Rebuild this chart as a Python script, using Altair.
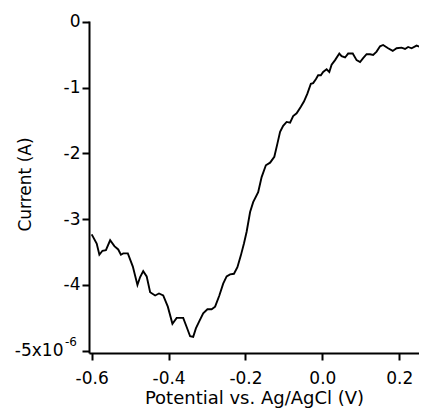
import altair as alt
import pandas as pd

# Potential (V vs. Ag/AgCl)
potential = [
    -0.600, -0.587, -0.580, -0.572, -0.563, -0.552, -0.541, -0.531, -0.524, -0.518,
    -0.506, -0.493, -0.481, -0.474, -0.466, -0.457, -0.448, -0.435, -0.425, -0.414,
    -0.402, -0.390, -0.379, -0.362, -0.353, -0.344, -0.336, -0.329, -0.320, -0.310,
    -0.299, -0.288, -0.279, -0.268, -0.258, -0.249, -0.240, -0.230, -0.221, -0.212,
    -0.204, -0.197, -0.188, -0.180, -0.167, -0.158, -0.147, -0.136, -0.125, -0.117,
    -0.110, -0.102, -0.093, -0.084, -0.076, -0.067, -0.056, -0.048, -0.039, -0.030,
    -0.024, -0.017, -0.011, -0.004, 0.002, 0.011, 0.018, 0.024, 0.033, 0.044,
    0.050, 0.059, 0.067, 0.079, 0.089, 0.098, 0.106, 0.115, 0.124, 0.132,
    0.141, 0.150, 0.158, 0.171, 0.183, 0.193, 0.206, 0.215, 0.223, 0.232,
    0.245, 0.254, 0.267,
]

# Current, in units of 1e-6 A
current = [
    -3.23, -3.37, -3.54, -3.48, -3.47, -3.32, -3.41, -3.46, -3.54, -3.52,
    -3.52, -3.72, -4.00, -3.88, -3.79, -3.87, -4.11, -4.16, -4.13, -4.16,
    -4.33, -4.59, -4.50, -4.50, -4.64, -4.78, -4.79, -4.66, -4.55, -4.43,
    -4.37, -4.37, -4.33, -4.16, -3.98, -3.87, -3.84, -3.83, -3.73, -3.55,
    -3.37, -3.19, -2.89, -2.74, -2.59, -2.36, -2.18, -2.14, -2.05, -1.85,
    -1.67, -1.58, -1.52, -1.53, -1.43, -1.39, -1.29, -1.21, -1.09, -0.94,
    -0.93, -0.87, -0.81, -0.81, -0.76, -0.72, -0.76, -0.65, -0.58, -0.48,
    -0.52, -0.54, -0.48, -0.48, -0.58, -0.61, -0.55, -0.49, -0.49, -0.50,
    -0.45, -0.37, -0.35, -0.40, -0.44, -0.40, -0.39, -0.41, -0.38, -0.40,
    -0.36, -0.38, -0.36,
]

x_ticks = [-0.6, -0.4, -0.2, 0.0, 0.2]
y_ticks = [0, -1, -2, -3, -4, -5]

# exponent shown beside the lowest y tick label
exponent_label = ["-6"]
exponent_at = [-5]

df = pd.DataFrame({"potential": potential, "current": current})
exp_df = pd.DataFrame({"text": exponent_label, "current": exponent_at})

FONT = "DejaVu Sans"

x_axis = alt.Axis(
    values=x_ticks,
    title="Potential vs. Ag/AgCl (V)",
    labelExpr="replace(format(datum.value, '.1f'), '\u2212', '-')",
    grid=False,
    domainColor="black", domainWidth=2,
    tickColor="black", tickWidth=2, tickSize=7,
    labelFont=FONT, labelFontSize=17, labelColor="black", labelPadding=10,
    labelFlush=False,
    titleFont=FONT, titleFontSize=18, titleFontWeight="normal", titleColor="black",
    titleY=50, titleBaseline="alphabetic",
)

y_axis = alt.Axis(
    values=y_ticks,
    title="Current (A)",
    labelExpr="datum.value == -5 ? '-5x10' : (datum.value == 0 ? '0' : '-' + abs(datum.value))",
    grid=False,
    domainColor="black", domainWidth=2,
    tickColor="black", tickWidth=2, tickSize=7,
    labelFont=FONT, labelFontSize=17, labelColor="black",
    labelPadding={"condition": {"test": "datum.value == -5", "value": 19}, "value": 2},
    labelFlush=False,
    titleFont=FONT, titleFontSize=17, titleFontWeight="normal", titleColor="black",
    titleX=-64, titleY=163, titleBaseline="middle",
)

xscale = alt.Scale(domain=[-0.607, 0.2513], nice=False, zero=False)
yscale = alt.Scale(domain=[-5.035, 0.015], nice=False, zero=False)

line = (
    alt.Chart(df)
    .mark_line(color="black", strokeWidth=1.9)
    .encode(
        x=alt.X("potential:Q", scale=xscale, axis=x_axis),
        y=alt.Y("current:Q", scale=yscale, axis=y_axis),
    )
)

exponent = (
    alt.Chart(exp_df)
    .mark_text(font=FONT, fontSize=12, color="black", align="right", baseline="middle", dy=-9)
    .encode(
        x=alt.value(-12),
        y=alt.Y("current:Q", scale=yscale),
        text="text:N",
    )
)

chart = (
    alt.layer(line, exponent)
    .properties(
        width=330,
        height=332,
        padding={"left": 81, "top": 13, "right": 0, "bottom": 55},
        autosize=alt.AutoSizeParams(type="none"),
        background="white",
    )
    .configure_view(strokeWidth=0)
)

chart.save("out.html", embed_options={"renderer": "svg", "actions": False})
